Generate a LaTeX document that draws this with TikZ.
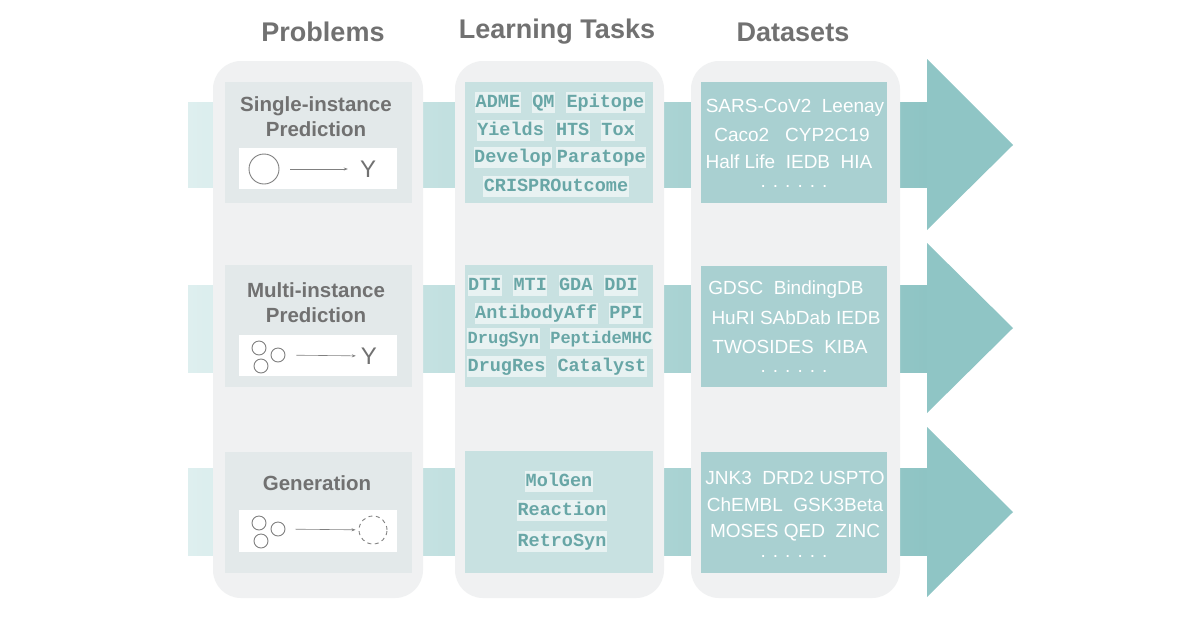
\documentclass[tikz,border=0pt]{standalone}
\usepackage{fontspec}
\setmainfont{Liberation Sans}
\newfontfamily\taskfont{Liberation Mono}
\usepackage{xcolor}
\usetikzlibrary{arrows.meta,positioning}
\definecolor{ColBg}{RGB}{240,241,242}
\definecolor{ProbBox}{RGB}{227,233,234}
\definecolor{TaskBox}{RGB}{200,225,225}
\definecolor{DataBox}{RGB}{169,208,209}
\definecolor{BandL}{RGB}{222,239,239}
\definecolor{BandR}{RGB}{142,196,196}
\definecolor{HeadCol}{RGB}{143,197,197}
\definecolor{TitleGray}{RGB}{113,113,113}
\definecolor{TaskText}{RGB}{104,166,166}
\definecolor{TaskHl}{RGB}{232,242,242}
\definecolor{IconGray}{RGB}{128,128,128}
\setlength{\fboxsep}{0.5pt}
\newcommand{\tk}[1]{\colorbox{TaskHl}{\rule[-5pt]{0pt}{20pt}#1}}

\begin{document}
\begin{tikzpicture}[x=1pt, y=-1pt,
	title/.style={font=\fontsize{27}{30}\selectfont\bfseries, text=TitleGray},
	problab/.style={font=\fontsize{20.5}{25}\selectfont\bfseries, text=TitleGray, align=center},
	tasktext/.style={font=\taskfont\bfseries\fontsize{18.5}{22}\selectfont, text=TaskText, inner sep=0pt},
	datatext/.style={font=\fontsize{19}{22}\selectfont, text=white, inner sep=0pt},
	datadots/.style={datatext, anchor=base},
	ycap/.style={font=\fontsize{24}{26}\selectfont, text=TitleGray, inner sep=1pt},
	ball/.style={circle, draw=IconGray, line width=0.9pt, inner sep=0pt},
	iconarrow/.style={-{Stealth[length=4pt, width=3pt]}, draw=IconGray, line width=0.6pt}]
	\useasboundingbox (0,0) rectangle (1200,630);
	\fill[white] (0,0) rectangle (1200,630);

	% bands and arrow heads
	\shade[left color=BandL, right color=BandR] (188,102) rectangle (927,187);
	\shade[left color=BandL, right color=BandR] (188,285) rectangle (927,372);
	\shade[left color=BandL, right color=BandR] (188,468) rectangle (927,555);
	\fill[HeadCol] (927,59) -- (1013,145) -- (927,230) -- cycle;
	\fill[HeadCol] (927,243) -- (1013,328) -- (927,413) -- cycle;
	\fill[HeadCol] (927,427) -- (1013,512) -- (927,597) -- cycle;

	% columns
	\fill[ColBg, rounded corners=28] (213,61) rectangle (423,598);
	\fill[ColBg, rounded corners=28] (455,61) rectangle (664,598);
	\fill[ColBg, rounded corners=28] (691,61) rectangle (900,598);

	\node[title] (tprob) at (323,32) {Problems};
	\node[title] (ttask) at (557,32) {Learning Tasks};
	\node[title] (tdata) at (793,32) {Datasets};

	% problems
	\fill[ProbBox] (225,82) rectangle (412,203);
	\fill[ProbBox] (225,265) rectangle (412,387);
	\fill[ProbBox] (225,452) rectangle (412,573);
	\fill[white] (239,148) rectangle (397,189);
	\fill[white] (239,335) rectangle (397,376);
	\fill[white] (239,510) rectangle (397,552);

	\node[problab] (single) at (316,116.5) {Single-instance\\Prediction};
	\node[problab] (multi) at (316,302.5) {Multi-instance\\Prediction};
	\node[problab] (gen) at (317,483) {Generation};

	\node[ball, minimum size=30] (s1) at (264,169) {};
	\node[ycap] (y1) at (368,169) {Y};
	\draw[iconarrow, shorten <=11pt, shorten >=11pt] (s1) -- (y1);

	\node[ball, minimum size=14] (m1) at (259,348) {};
	\node[ball, minimum size=14] (m2) at (278,355) {};
	\node[ball, minimum size=14] (m3) at (261,366) {};
	\node[ycap] (y2) at (369,356) {Y};
	\draw[iconarrow, shorten <=11pt, shorten >=4pt] (m2) -- (y2);

	\node[ball, minimum size=14] (g1) at (259,523) {};
	\node[ball, minimum size=14] (g2) at (278,529) {};
	\node[ball, minimum size=14] (g3) at (261,541) {};
	\node[circle, draw=IconGray, dashed, dash pattern=on 4pt off 3.5pt, line width=0.9pt, minimum size=28, inner sep=0pt] (gout) at (373,530) {};
	\draw[iconarrow, shorten <=10pt, shorten >=3pt] (g2) -- (gout);

	% learning tasks
	\fill[TaskBox] (465,82) rectangle (653,203);
	\fill[TaskBox] (465,265) rectangle (653,387);
	\fill[TaskBox] (465,451) rectangle (653,573);

	\node[tasktext] (ta1) at (560,102.5) {\tk{ADME} \tk{QM} \tk{Epitope}};
	\node[tasktext] (ta2) at (556,130) {\tk{Yields} \tk{HTS} \tk{Tox}};
	\node[tasktext] (ta3) at (560,157) {\tk{Develop}\hspace{4pt}\tk{Paratope}};
	\node[tasktext] (ta4) at (556,186) {\tk{CRISPROutcome}};

	\node[tasktext] (tb1) at (553,285) {\tk{DTI} \tk{MTI} \tk{GDA} \tk{DDI}};
	\node[tasktext] (tb2) at (559,313) {\tk{AntibodyAff} \tk{PPI}};
	\node[tasktext, font=\taskfont\bfseries\fontsize{17}{20}\selectfont] (tb3) at (560,338) {\tk{DrugSyn} \tk{PeptideMHC}};
	\node[tasktext] (tb4) at (557,366) {\tk{DrugRes} \tk{Catalyst}};

	\node[tasktext] (tc1) at (559,481) {\tk{MolGen}};
	\node[tasktext] (tc2) at (562,510) {\tk{Reaction}};
	\node[tasktext] (tc3) at (562,541) {\tk{RetroSyn}};

	% datasets
	\fill[DataBox] (701,82) rectangle (887,203);
	\fill[DataBox] (701,266) rectangle (887,387);
	\fill[DataBox] (701,452) rectangle (887,573);

	\node[datatext] (da1) at (795,108) {SARS-CoV2\ \ Leenay};
	\node[datatext] (da2) at (792,135) {Caco2\ \ \ CYP2C19};
	\node[datatext] (da3) at (789,162) {Half Life\ \ IEDB\ \ HIA};
	\node[datadots] (da4) at (794,187) {. . . . . .};

	\node[datatext] (db1) at (786,290) {GDSC\ \ BindingDB};
	\node[datatext] (db2) at (796,318) {HuRI SAbDab IEDB};
	\node[datatext] (db3) at (790,347) {TWOSIDES\ \ KIBA};
	\node[datadots] (db4) at (794,372) {. . . . . .};

	\node[datatext] (dc1) at (795,478) {JNK3\ \ DRD2 USPTO};
	\node[datatext] (dc2) at (795,505) {ChEMBL\ \ GSK3Beta};
	\node[datatext] (dc3) at (795,533) {MOSES QED\ \ ZINC};
	\node[datadots] (dc4) at (794,557) {. . . . . .};
\end{tikzpicture}
\end{document}
